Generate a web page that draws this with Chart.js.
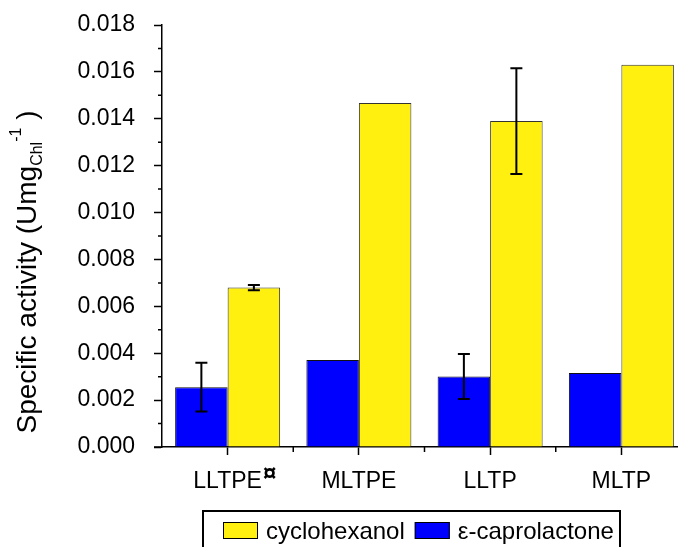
<!DOCTYPE html>
<html lang="en">
<head>
<meta charset="UTF-8">
<title>Specific activity</title>
<script src="https://cdn.jsdelivr.net/npm/chart.js@4.4.0/dist/chart.umd.min.js"></script>
<style>
  html, body { margin: 0; padding: 0; background: #fff; overflow: hidden; }
  #wrap { width: 678px; height: 547px; overflow: hidden; }
</style>
</head>
<body>
<div id="wrap"><canvas id="graph" width="700" height="547"></canvas></div>
<script>
// data
const categories = ['LLTPE', 'MLTPE', 'LLTP', 'MLTP'];
const labelMarks = ['¤', '', '', ''];
const caprolactone = [0.00255, 0.00371, 0.00301, 0.00316];
const caprolactoneErr = [0.00104, null, 0.00096, null];
const cyclohexanol = [0.0068, 0.01467, 0.0139, 0.0163];
const cyclohexanolErr = [0.00011, null, 0.00226, null];
const yTicks = [0, 0.002, 0.004, 0.006, 0.008, 0.010, 0.012, 0.014, 0.016, 0.018];

const FONT = "'Liberation Sans', Arial, sans-serif";

const errorBars = {
    id: 'errorBars',
    afterDatasetsDraw(chart) {
        const ctx = chart.ctx;
        const y = chart.scales.y;
        const errs = [caprolactoneErr, cyclohexanolErr];
        ctx.save();
        ctx.strokeStyle = '#000';
        ctx.lineWidth = 2;
        chart.data.datasets.forEach((ds, d) => {
            const meta = chart.getDatasetMeta(d);
            meta.data.forEach((bar, i) => {
                const e = errs[d][i];
                if (!e) return;
                const top = y.getPixelForValue(ds.data[i] + e);
                const bot = y.getPixelForValue(ds.data[i] - e);
                ctx.beginPath();
                ctx.moveTo(bar.x, top); ctx.lineTo(bar.x, bot);
                ctx.moveTo(bar.x - 6, top); ctx.lineTo(bar.x + 6, top);
                ctx.moveTo(bar.x - 6, bot); ctx.lineTo(bar.x + 6, bot);
                ctx.stroke();
            });
        });
        ctx.restore();
    }
};

const extras = {
    id: 'extras',
    afterDraw(chart) {
        const ctx = chart.ctx;
        const x = chart.scales.x, y = chart.scales.y;
        const area = chart.chartArea;
        ctx.save();
        ctx.strokeStyle = '#000';
        ctx.lineWidth = 1.5;
        // minor ticks
        ctx.beginPath();
        for (let i = 0; i < yTicks.length - 1; i++) {
            const py = y.getPixelForValue((yTicks[i] + yTicks[i + 1]) / 2);
            ctx.moveTo(area.left - 4, py); ctx.lineTo(area.left, py);
        }
        for (let i = 0; i < categories.length - 1; i++) {
            const px = (x.getPixelForValue(i) + x.getPixelForValue(i + 1)) / 2;
            ctx.moveTo(px, area.bottom); ctx.lineTo(px, area.bottom + 5);
        }
        ctx.moveTo(area.left - 8, area.bottom); ctx.lineTo(area.left, area.bottom);
        ctx.stroke();

        // superscript marks on category labels
        ctx.fillStyle = '#000';
        ctx.textBaseline = 'alphabetic';
        labelMarks.forEach((m, i) => {
            if (!m) return;
            ctx.font = '23px ' + FONT;
            const w = ctx.measureText(categories[i]).width;
            ctx.font = 'bold 24px ' + FONT;
            ctx.fillText(m, x.getPixelForValue(i) + w / 2 + 1, 481);
        });

        // y axis title with sub/superscript
        ctx.translate(36, 272);
        ctx.rotate(-Math.PI / 2);
        const parts = [
            { t: 'Specific activity (Umg', f: '28px ', dy: 0 },
            { t: 'Chl', f: '16px ', dy: 6 },
            { t: '-1', f: '16px ', dy: -15 },
            { t: ' )', f: '28px ', dy: 0 }
        ];
        let total = 0;
        parts.forEach(p => { ctx.font = p.f + FONT; p.w = ctx.measureText(p.t).width; total += p.w; });
        let cx = -total / 2;
        parts.forEach(p => { ctx.font = p.f + FONT; ctx.fillText(p.t, cx, p.dy); cx += p.w; });
        ctx.restore();

        // legend
        ctx.save();
        ctx.strokeStyle = '#000';
        ctx.lineWidth = 2;
        ctx.strokeRect(203, 511, 417, 50);
        ctx.font = '24px ' + FONT;
        ctx.textBaseline = 'alphabetic';
        let lx = 223;
        [1, 0].forEach(d => {
            const ds = chart.data.datasets[d];
            ctx.fillStyle = ds.backgroundColor;
            ctx.fillRect(lx, 522, 35, 17);
            ctx.lineWidth = 1;
            ctx.strokeRect(lx + 0.5, 522.5, 34, 16);
            ctx.fillStyle = '#000';
            ctx.fillText(ds.label, lx + 43, 539);
            lx += 43 + ctx.measureText(ds.label).width + 10;
        });
        ctx.restore();
    }
};

new Chart(document.getElementById('graph').getContext('2d'), {
    type: 'bar',
    data: {
        labels: categories,
        datasets: [
            { label: 'ε-caprolactone', data: caprolactone, backgroundColor: '#0000FF',
              borderColor: '#111', borderWidth: 1 },
            { label: 'cyclohexanol', data: cyclohexanol, backgroundColor: '#FFF00F',
              borderColor: '#333', borderWidth: 1 }
        ]
    },
    options: {
        responsive: false,
        devicePixelRatio: 1,
        animation: false,
        layout: { autoPadding: false, padding: { top: 25, right: 13, left: 0, bottom: 0 } },
        categoryPercentage: 0.8,
        barPercentage: 1,
        plugins: { legend: { display: false }, tooltip: { enabled: false } },
        scales: {
            x: {
                afterFit: s => { s.height = 100; s.paddingLeft = 0; s.paddingRight = 0; },
                grid: { offset: false, drawOnChartArea: false, tickLength: 8, tickColor: '#000', tickWidth: 1.5 },
                border: { color: '#000', width: 1.5 },
                ticks: { color: '#000', font: { family: FONT, size: 23 }, padding: 13, maxRotation: 0 }
            },
            y: {
                min: 0, max: 0.018,
                afterFit: s => { s.width = 162; s.paddingTop = 0; s.paddingBottom = 0; },
                afterBuildTicks: s => { s.ticks = yTicks.map(v => ({ value: v })); },
                grid: { drawOnChartArea: false, tickLength: 8, tickColor: '#000', tickWidth: 1.5 },
                border: { color: '#000', width: 1.5 },
                ticks: { color: '#000', font: { family: FONT, size: 23 }, padding: 19,
                         callback: v => v.toFixed(3) }
            }
        }
    },
    plugins: [errorBars, extras]
});
</script>
</body>
</html>
